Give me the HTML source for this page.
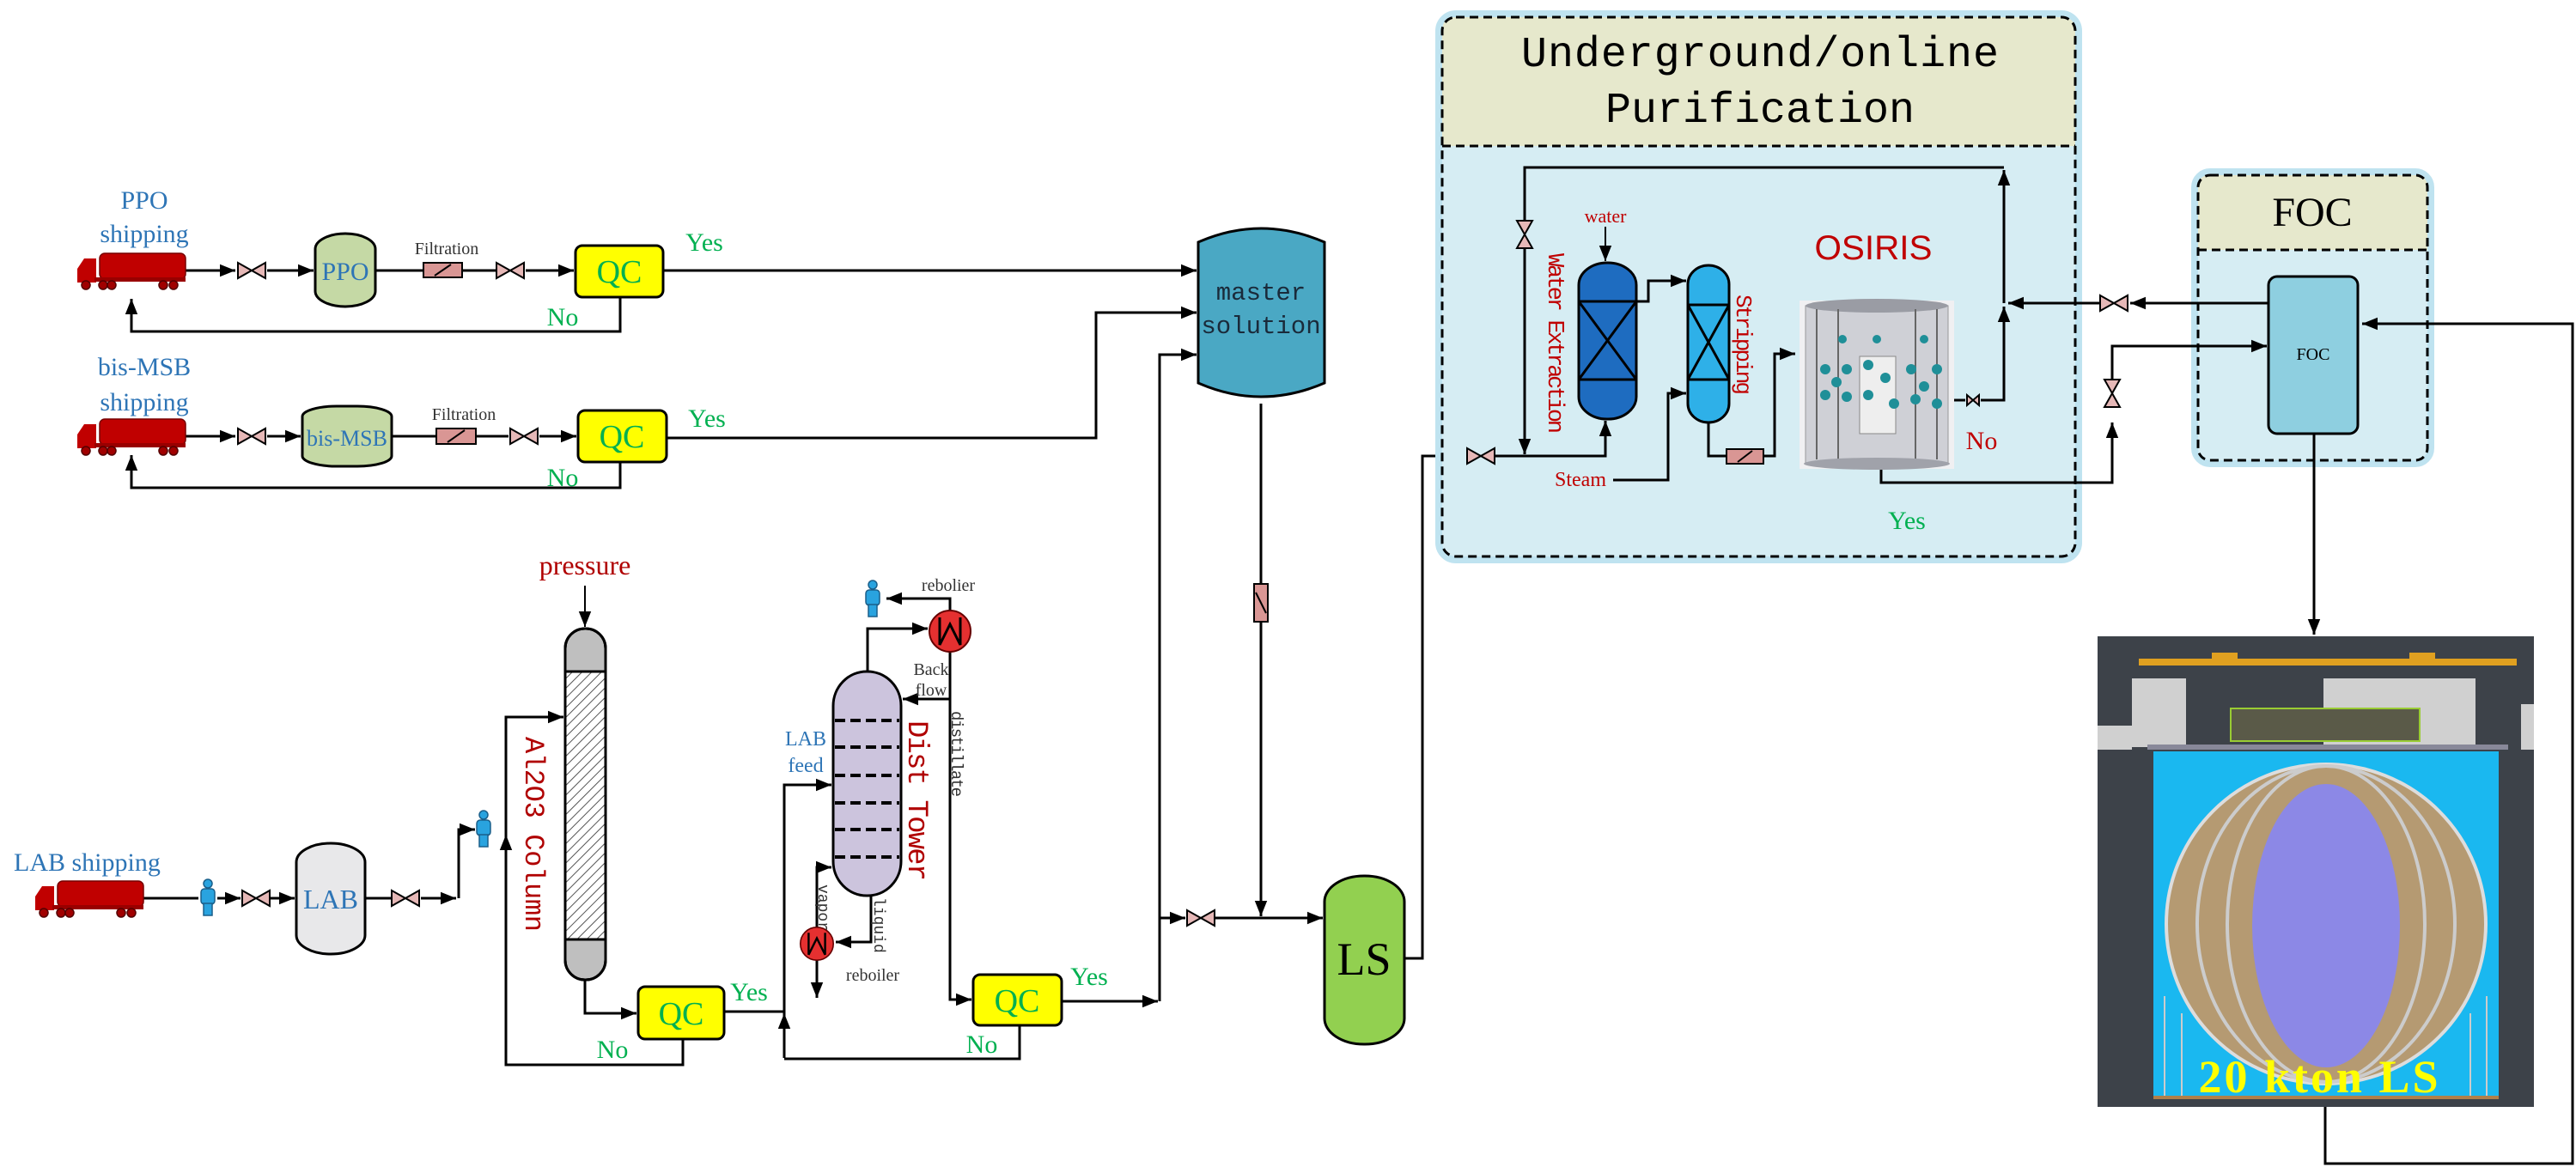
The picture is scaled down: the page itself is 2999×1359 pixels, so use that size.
<!DOCTYPE html>
<html><head><meta charset="utf-8"><style>html,body{margin:0;padding:0;background:#fff}svg{display:block}</style></head><body>
<svg xmlns="http://www.w3.org/2000/svg" width="2999" height="1359" viewBox="0 0 2999 1359" font-family="Liberation Sans, sans-serif">
<defs>
<marker id="a" viewBox="0 0 10 10" refX="10" refY="5" markerWidth="18" markerHeight="18" markerUnits="userSpaceOnUse" orient="auto"><path d="M0,1 L10,5 L0,9z" fill="#000"/></marker>
<pattern id="h" width="8" height="8" patternUnits="userSpaceOnUse" patternTransform="rotate(45)"><rect width="8" height="8" fill="#fff"/><line x1="0" y1="0" x2="0" y2="8" stroke="#555" stroke-width="2"/></pattern>
<g id="truck"><path d="M0,18 L8,6 L22,6 L22,34 L0,34Z" fill="#c00000"/><rect x="26" y="0" width="100" height="30" rx="6" fill="#c00000" stroke="#700" stroke-width="1.5"/><rect x="20" y="28" width="106" height="5" fill="#900"/><g fill="#a00000" stroke="#500" stroke-width="1.5"><circle cx="10" cy="37" r="5"/><circle cx="30" cy="37" r="5"/><circle cx="40" cy="37" r="5"/><circle cx="100" cy="37" r="5"/><circle cx="112" cy="37" r="5"/></g></g>
<g id="person" fill="#29a3df" stroke="#1a5f8a" stroke-width="1.5"><circle cx="0" cy="-15" r="5"/><rect x="-8" y="-9" width="16" height="18" rx="4"/><rect x="-5" y="8" width="10" height="14"/></g>
<g id="valve"><path d="M-16,-9 L16,9 L16,-9 L-16,9Z" fill="#e6b8b7" stroke="#000" stroke-width="2"/></g>
<g id="vvalve"><path d="M-9,-16 L9,16 L-9,16 L9,-16Z" fill="#e6b8b7" stroke="#000" stroke-width="2"/></g>
<g id="hx"><circle r="24" fill="#e53030" stroke="#600" stroke-width="2"/><path d="M-12,-16 L-12,16 L0,-8 L12,16 L12,-16" fill="none" stroke="#000" stroke-width="3"/></g>
</defs>

<g stroke="#000" stroke-width="3" fill="none">
<path d="M216,315 H274" marker-end="url(#a)"/><path d="M311,315 H365" marker-end="url(#a)"/><path d="M437,315 H493 M538,315 H577"/><path d="M612,315 H668" marker-end="url(#a)"/>
<path d="M772,315 H1393" marker-end="url(#a)"/>
<path d="M722,346 V386 H153 V348" marker-end="url(#a)"/>
<path d="M216,508 H274" marker-end="url(#a)"/><path d="M311,508 H350" marker-end="url(#a)"/><path d="M456,508 H508 M554,508 H592"/><path d="M628,508 H671" marker-end="url(#a)"/>
<path d="M776,510 H1276 V364 H1393" marker-end="url(#a)"/>
<path d="M722,538 V568 H153 V530" marker-end="url(#a)"/>
<path d="M1350,1166 V413 H1393" marker-end="url(#a)"/>
<path d="M1468,470 V680 M1468,724 V1067" marker-end="url(#a)"/>
<path d="M1236,1166 H1348" marker-end="url(#a)"/>
<path d="M1350,1069 H1380" marker-end="url(#a)"/><path d="M1415,1069 H1540" marker-end="url(#a)"/>
<path d="M1635,1116 H1656 V531 H1705" marker-end="url(#a)"/>
<path d="M165,1046 H231"/><path d="M253,1046 H280" marker-end="url(#a)"/><path d="M314,1046 H343" marker-end="url(#a)"/><path d="M425,1046 H455"/><path d="M490,1046 H531" marker-end="url(#a)"/>
<path d="M534,1046 V966 H553" marker-end="url(#a)"/>
<path d="M795,1210 V1240 H589 V835 H656" marker-end="url(#a)"/>
<path d="M589,1000 V972" marker-end="url(#a)"/>
<path d="M681,682 V730" stroke-width="2" marker-end="url(#a)"/>
<path d="M681,1141 V1180 H741" marker-end="url(#a)"/>
<path d="M843,1178 H913"/>
<path d="M913,1232 V914 H968" marker-end="url(#a)"/>
<path d="M913,1200 V1180" marker-end="url(#a)"/>
<path d="M1187,1194 V1233 H913"/>
<path d="M1010,782 V732 H1080" marker-end="url(#a)"/>
<path d="M1106,711 V697 H1032" marker-end="url(#a)"/>
<path d="M1106,759 V1164 H1131" marker-end="url(#a)"/>
<path d="M1106,814 H1051" marker-end="url(#a)"/>
<path d="M1014,1043 V1097 H973" marker-end="url(#a)"/>
<path d="M951,1080 V1010 H968" marker-end="url(#a)"/>
<path d="M951,1118 V1162" marker-end="url(#a)"/>
</g>

<rect x="1679" y="20" width="737" height="628" rx="16" fill="none" stroke="#bfe3f0" stroke-width="16"/>
<rect x="1679" y="20" width="737" height="628" rx="16" fill="#d6edf3"/>
<path d="M1695,20 H2400 Q2416,20 2416,36 V170 H1679 V36 Q1679,20 1695,20Z" fill="#e6e8cc"/>
<rect x="1679" y="20" width="737" height="628" rx="16" fill="none" stroke="#000" stroke-width="3" stroke-dasharray="10,6"/>
<line x1="1679" y1="170" x2="2416" y2="170" stroke="#000" stroke-width="3" stroke-dasharray="10,6"/>
<text x="2049" y="77" font-family="Liberation Mono, monospace" font-size="50" text-anchor="middle" textLength="556">Underground/online</text>
<text x="2049" y="142" font-family="Liberation Mono, monospace" font-size="50" text-anchor="middle">Purification</text>

<rect x="2559" y="204" width="267" height="332" rx="14" fill="none" stroke="#bfe3f0" stroke-width="16"/>
<rect x="2559" y="204" width="267" height="332" rx="14" fill="#d6edf3"/>
<path d="M2573,204 H2812 Q2826,204 2826,218 V291 H2559 V218 Q2559,204 2573,204Z" fill="#e6e8cc"/>
<rect x="2559" y="204" width="267" height="332" rx="14" fill="none" stroke="#000" stroke-width="3" stroke-dasharray="10,6"/>
<line x1="2559" y1="291" x2="2826" y2="291" stroke="#000" stroke-width="3" stroke-dasharray="10,6"/>
<text x="2692" y="263" font-family="Liberation Serif, serif" font-size="48" text-anchor="middle">FOC</text>
<rect x="2641" y="322" width="104" height="183" rx="10" fill="#8ecfe0" stroke="#000" stroke-width="3"/>
<text x="2693" y="419" font-family="Liberation Serif, serif" font-size="20" text-anchor="middle">FOC</text>

<g stroke="#000" stroke-width="3" fill="none">
<path d="M1741,531 H1869 V490" marker-end="url(#a)"/>
<path d="M2333,195 H1775 V256 M1775,290 V529" marker-end="url(#a)"/>
<path d="M2275,466 H2288 M2306,466 H2333 V357" marker-end="url(#a)"/>
<path d="M2333,353 V198" marker-end="url(#a)"/>
<path d="M2641,353 H2480" marker-end="url(#a)"/>
<path d="M2445,353 H2338" marker-end="url(#a)"/>
<path d="M2190,546 V562 H2459 V492" marker-end="url(#a)"/>
<path d="M2459,442 V403 H2639" marker-end="url(#a)"/>
<path d="M2707,1289 V1355 H2995 V377 H2750" marker-end="url(#a)"/>
<path d="M2694,505 V739" marker-end="url(#a)"/>
<path d="M1869,264 V304" stroke-width="2" marker-end="url(#a)"/>
<path d="M1878,559 H1942 V458 H1963" marker-end="url(#a)"/>
<path d="M1905,351 H1919 V327 H1963" marker-end="url(#a)"/>
<path d="M1989,492 V531 H2010 M2053,531 H2066 V412 H2090" marker-end="url(#a)"/>
</g>
<use href="#valve" x="1724" y="531"/>
<use href="#vvalve" x="1775" y="273"/>
<use href="#valve" x="2461" y="353"/>
<use href="#vvalve" x="2459" y="458"/>
<path d="M2290,460 L2304,472 L2304,460 L2290,472Z" fill="#e6b8b7" stroke="#000" stroke-width="2"/>
<rect x="1838" y="306" width="67" height="182" rx="33" ry="26" fill="#1e6cc0" stroke="#000" stroke-width="3"/>
<path d="M1838,351 H1905 M1838,442 H1905 M1838,351 L1905,442 M1905,351 L1838,442" stroke="#000" stroke-width="3"/>
<rect x="1965" y="309" width="48" height="183" rx="24" ry="22" fill="#2eb0e8" stroke="#000" stroke-width="3"/>
<path d="M1965,355 H2013 M1965,442 H2013 M1965,355 L2013,442 M2013,355 L1965,442" stroke="#000" stroke-width="3"/>
<rect x="2010" y="523" width="43" height="17" fill="#d99694" stroke="#000" stroke-width="2"/><line x1="2040" y1="525" x2="2023" y2="538" stroke="#000" stroke-width="2"/>
<text x="1869" y="259" font-family="Liberation Serif, serif" font-size="22" fill="#c00000" text-anchor="middle">water</text>
<text x="1810" y="566" font-family="Liberation Serif, serif" font-size="24" fill="#c00000">Steam</text>
<text transform="translate(1803,295) rotate(90)" font-family="Liberation Mono, monospace" font-size="27" fill="#c00000" textLength="210">Water Extraction</text>
<text transform="translate(2022,343) rotate(90)" font-family="Liberation Mono, monospace" font-size="26" fill="#c00000" textLength="117">Stripping</text>
<text x="2181" y="302" font-size="40" fill="#c00000" text-anchor="middle" textLength="137" lengthAdjust="spacingAndGlyphs">OSIRIS</text>
<text x="2307" y="523" font-family="Liberation Serif, serif" font-size="30" fill="#c00000" text-anchor="middle">No</text>
<text x="2220" y="616" font-family="Liberation Serif, serif" font-size="30" fill="#00b050" text-anchor="middle">Yes</text>
<rect x="2095" y="350" width="180" height="196" fill="#f0f0f2"/>
<rect x="2102" y="356" width="166" height="184" fill="#cfd0d6" stroke="#999"/>
<ellipse cx="2185" cy="356" rx="83" ry="8" fill="#9a9ca4"/>
<g stroke="#666" stroke-width="2"><line x1="2115" y1="360" x2="2115" y2="535"/><line x1="2140" y1="360" x2="2140" y2="535"/><line x1="2230" y1="360" x2="2230" y2="535"/><line x1="2255" y1="360" x2="2255" y2="535"/></g>
<rect x="2165" y="415" width="42" height="90" fill="#eee" stroke="#888"/>
<g fill="#1f8f98"><circle cx="2125" cy="430" r="6"/><circle cx="2138" cy="445" r="6"/><circle cx="2125" cy="460" r="6"/><circle cx="2150" cy="430" r="6"/><circle cx="2150" cy="462" r="6"/><circle cx="2175" cy="425" r="6"/><circle cx="2195" cy="440" r="6"/><circle cx="2175" cy="460" r="6"/><circle cx="2205" cy="470" r="6"/><circle cx="2225" cy="430" r="6"/><circle cx="2240" cy="450" r="6"/><circle cx="2255" cy="430" r="6"/><circle cx="2230" cy="465" r="6"/><circle cx="2255" cy="470" r="6"/><circle cx="2185" cy="395" r="5"/><circle cx="2145" cy="395" r="5"/><circle cx="2240" cy="395" r="5"/></g>
<ellipse cx="2185" cy="540" rx="85" ry="7" fill="#a0a2aa"/>

<rect x="2442" y="741" width="508" height="548" fill="#3d4249"/>
<rect x="2482" y="790" width="400" height="80" fill="#d0d0d0"/>
<rect x="2545" y="790" width="160" height="80" fill="#3d4249"/>
<rect x="2442" y="845" width="40" height="28" fill="#d0d0d0"/><rect x="2935" y="820" width="15" height="53" fill="#d0d0d0"/>
<rect x="2490" y="767" width="440" height="8" fill="#e0a020"/><rect x="2575" y="760" width="30" height="14" fill="#e0a020"/><rect x="2805" y="760" width="30" height="14" fill="#e0a020"/>
<rect x="2597" y="825" width="220" height="38" fill="#5a5a48" stroke="#9c3" stroke-width="2"/>
<rect x="2500" y="867" width="420" height="6" fill="#889"/>
<rect x="2507" y="875" width="402" height="404" fill="#1ab8f0"/>
<circle cx="2708" cy="1076" r="186" fill="#b59a72" stroke="#ddd" stroke-width="4"/>
<ellipse cx="2708" cy="1076" rx="150" ry="184" fill="none" stroke="#ccc" stroke-width="4"/>
<ellipse cx="2708" cy="1076" rx="115" ry="184" fill="none" stroke="#ccc" stroke-width="4"/>
<ellipse cx="2708" cy="1078" rx="86" ry="165" fill="#8c88e6"/>
<g stroke="#ccc" stroke-width="2"><line x1="2520" y1="1160" x2="2520" y2="1279"/><line x1="2895" y1="1160" x2="2895" y2="1279"/><line x1="2540" y1="1180" x2="2540" y2="1279"/><line x1="2876" y1="1180" x2="2876" y2="1279"/></g>
<rect x="2507" y="1276" width="402" height="4" fill="#b0804a"/>
<text x="2699" y="1272" font-family="Liberation Serif, serif" font-weight="bold" font-size="54" fill="#ffff00" text-anchor="middle" textLength="279">20 kton LS</text>

<use href="#truck" x="90" y="295"/>
<use href="#truck" x="90" y="488"/>
<use href="#truck" x="41" y="1026"/>
<use href="#valve" x="293" y="315"/><use href="#valve" x="594" y="315"/>
<use href="#valve" x="293" y="508"/><use href="#valve" x="610" y="508"/>
<use href="#valve" x="298" y="1046"/><use href="#valve" x="472" y="1046"/>
<use href="#valve" x="1398" y="1069"/>
<rect x="367" y="272" width="70" height="85" rx="35" ry="18" fill="#c5d9a5" stroke="#000" stroke-width="3"/>
<rect x="352" y="473" width="104" height="70" rx="40" ry="12" fill="#c5d9a5" stroke="#000" stroke-width="3"/>
<rect x="345" y="982" width="80" height="129" rx="40" ry="22" fill="#e8e8ea" stroke="#000" stroke-width="3"/>
<rect x="493" y="306" width="45" height="17" fill="#d99694" stroke="#000" stroke-width="2"/><line x1="525" y1="308" x2="506" y2="321" stroke="#000" stroke-width="2"/>
<rect x="508" y="499" width="46" height="18" fill="#d99694" stroke="#000" stroke-width="2"/><line x1="541" y1="501" x2="521" y2="515" stroke="#000" stroke-width="2"/>
<rect x="1460" y="680" width="16" height="44" fill="#d99694" stroke="#000" stroke-width="2"/><line x1="1462" y1="690" x2="1474" y2="714" stroke="#000" stroke-width="2"/>
<rect x="670" y="286" width="102" height="60" rx="8" fill="#ffff00" stroke="#000" stroke-width="3"/>
<rect x="673" y="478" width="103" height="60" rx="8" fill="#ffff00" stroke="#000" stroke-width="3"/>
<rect x="743" y="1149" width="100" height="61" rx="8" fill="#ffff00" stroke="#000" stroke-width="3"/>
<rect x="1133" y="1135" width="103" height="59" rx="8" fill="#ffff00" stroke="#000" stroke-width="3"/>
<path d="M1395,282 Q1468,250 1542,282 V446 Q1468,478 1395,446 Z" fill="#4aa8c4" stroke="#000" stroke-width="3"/>
<rect x="1542" y="1020" width="93" height="196" rx="46" ry="30" fill="#92d050" stroke="#000" stroke-width="3"/>
<rect x="658" y="732" width="47" height="409" rx="23" fill="#bfbfbf" stroke="#000" stroke-width="3"/>
<rect x="659" y="782" width="45" height="312" fill="url(#h)"/>
<path d="M658,782 H705 M658,1094 H705" stroke="#000" stroke-width="3"/>
<rect x="658" y="732" width="47" height="409" rx="23" fill="none" stroke="#000" stroke-width="3"/>
<rect x="970" y="782" width="79" height="261" rx="39" ry="40" fill="#ccc4dd" stroke="#000" stroke-width="3"/>
<g stroke="#000" stroke-width="4" stroke-dasharray="12,6"><line x1="972" y1="839" x2="1047" y2="839"/><line x1="972" y1="870" x2="1047" y2="870"/><line x1="972" y1="903" x2="1047" y2="903"/><line x1="972" y1="935" x2="1047" y2="935"/><line x1="972" y1="966" x2="1047" y2="966"/><line x1="972" y1="998" x2="1047" y2="998"/></g>
<use href="#hx" x="1106" y="735"/>
<g transform="translate(951,1099) scale(0.8)"><use href="#hx"/></g>
<use href="#person" x="242" y="1044"/>
<use href="#person" x="563" y="964"/>
<use href="#person" x="1016" y="696"/>

<g fill="#2e75b6" font-family="Liberation Serif, serif" text-anchor="middle" font-size="30">
<text x="168" y="243">PPO</text><text x="168" y="282">shipping</text>
<text x="168" y="437">bis-MSB</text><text x="168" y="478">shipping</text>
<text x="16" y="1014" text-anchor="start">LAB shipping</text>
<text x="402" y="326">PPO</text>
<text x="404" y="519" font-size="26">bis-MSB</text>
<text x="385" y="1058" font-size="32">LAB</text>
<text x="938" y="868" font-size="24">LAB</text><text x="938" y="899" font-size="24">feed</text>
</g>
<g fill="#00b050" font-family="Liberation Serif, serif" text-anchor="middle" font-size="38">
<text x="721" y="329">QC</text><text x="724" y="521">QC</text><text x="793" y="1193">QC</text><text x="1184" y="1178">QC</text>
</g>
<g fill="#00b050" font-family="Liberation Serif, serif" text-anchor="middle" font-size="30">
<text x="820" y="292">Yes</text><text x="655" y="379">No</text>
<text x="823" y="497">Yes</text><text x="655" y="566">No</text>
<text x="872" y="1165">Yes</text><text x="713" y="1232">No</text>
<text x="1268" y="1147">Yes</text><text x="1143" y="1226">No</text>
</g>
<g font-family="Liberation Serif, serif" font-size="20" fill="#333" text-anchor="middle">
<text x="520" y="296">Filtration</text><text x="540" y="489">Filtration</text>
<text x="1104" y="688">rebolier</text>
<text x="1084" y="786">Back</text><text x="1084" y="810">flow</text>
<text x="1016" y="1142">reboiler</text>
</g>
<text x="681" y="669" font-family="Liberation Serif, serif" font-size="32" fill="#b00000" text-anchor="middle">pressure</text>
<g font-family="Liberation Mono, monospace" font-size="29" fill="#1a2a3a" text-anchor="middle">
<text x="1468" y="349">master</text><text x="1468" y="388">solution</text>
</g>
<text x="1588" y="1135" font-family="Liberation Serif, serif" font-size="54" fill="#000" text-anchor="middle">LS</text>
<text transform="translate(612,858) rotate(90)" font-family="Liberation Mono, monospace" font-size="32" fill="#b00000" textLength="227">Al2O3 Column</text>
<text transform="translate(1058,839) rotate(90)" font-family="Liberation Mono, monospace" font-size="34" fill="#b00000" textLength="187">Dist Tower</text>
<text transform="translate(1108,828) rotate(90)" font-family="Liberation Mono, monospace" font-size="19" fill="#333" textLength="100">distillate</text>
<text transform="translate(1018,1045) rotate(90)" font-family="Liberation Mono, monospace" font-size="18" fill="#333">liquid</text>
<text transform="translate(953,1030) rotate(90)" font-family="Liberation Mono, monospace" font-size="18" fill="#333">vapor</text>
</svg>
</body></html>
